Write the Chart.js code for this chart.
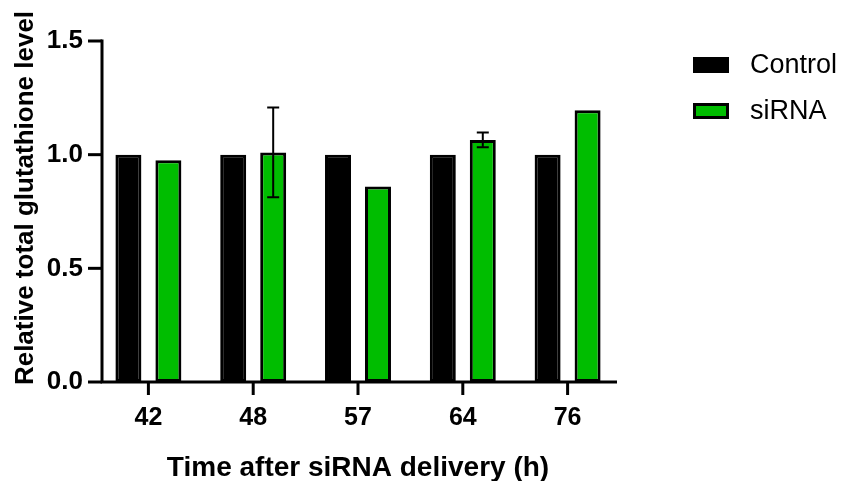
<!DOCTYPE html>
<html>
<head>
<meta charset="utf-8">
<title>Relative total glutathione level</title>
<script src="https://cdn.jsdelivr.net/npm/chart.js@4"></script>
<style>
  body { margin: 0; background: #fff; }
  #wrap { width: 841px; height: 481px; position: relative; }
</style>
</head>
<body>
<div id="wrap"><canvas id="barChart"></canvas></div>
<script>
const categories = ['42', '48', '57', '64', '76'];
const controlValues = [1.0, 1.0, 1.0, 1.0, 1.0];
const sirnaValues = [0.975, 1.01, 0.86, 1.065, 1.195];
const sirnaErrors = [0, 0.197, 0, 0.032, 0];
const yTicks = [0, 0.5, 1.0, 1.5];

const FONT = '"Liberation Sans", Arial, sans-serif';
const GREEN = '#00bd00';

// axis lines + tick marks drawn like the original (Prism style)
const axesPlugin = {
    id: 'axes',
    afterDatasetsDraw(chart) {
        const ctx = chart.ctx;
        const x = chart.scales.x;
        const y = chart.scales.y;
        const axisX = 102;
        const y0 = y.getPixelForValue(0);

        ctx.save();
        ctx.strokeStyle = '#000';
        ctx.lineWidth = 3;
        ctx.lineCap = 'butt';

        ctx.beginPath();
        ctx.moveTo(axisX, y.getPixelForValue(1.5) - 1.5);
        ctx.lineTo(axisX, y0);
        ctx.lineTo(617, y0);
        ctx.stroke();

        yTicks.forEach(v => {
            const py = y.getPixelForValue(v);
            ctx.beginPath();
            ctx.moveTo(88, py);
            ctx.lineTo(axisX, py);
            ctx.stroke();
        });

        categories.forEach((c, i) => {
            const px = x.getPixelForValue(i);
            ctx.beginPath();
            ctx.moveTo(px, y0);
            ctx.lineTo(px, y0 + 13);
            ctx.stroke();
        });

        // error bars on siRNA
        const meta = chart.getDatasetMeta(1);
        ctx.lineWidth = 2;
        sirnaErrors.forEach((err, i) => {
            if (!err) return;
            const bx = meta.data[i].x;
            const top = y.getPixelForValue(sirnaValues[i] + err);
            const bot = y.getPixelForValue(sirnaValues[i] - err);
            ctx.beginPath();
            ctx.moveTo(bx, top);
            ctx.lineTo(bx, bot);
            ctx.moveTo(bx - 6, top);
            ctx.lineTo(bx + 6, top);
            ctx.moveTo(bx - 6, bot);
            ctx.lineTo(bx + 6, bot);
            ctx.stroke();
        });

        ctx.restore();
    },
    afterDraw(chart) {
        const ctx = chart.ctx;
        ctx.save();

        // y axis title
        ctx.translate(26, 198);
        ctx.rotate(-Math.PI / 2);
        ctx.fillStyle = '#000';
        ctx.font = 'bold 26px ' + FONT;
        ctx.textAlign = 'center';
        ctx.textBaseline = 'middle';
        ctx.fillText('Relative total glutathione level', 0, 0);
        ctx.setTransform(1, 0, 0, 1, 0, 0);

        // legend
        ctx.font = '27px ' + FONT;
        ctx.textAlign = 'left';
        chart.data.datasets.forEach((ds, i) => {
            const top = 57 + i * 46;
            ctx.fillStyle = ds.backgroundColor;
            ctx.fillRect(693, top, 36, 16);
            ctx.strokeStyle = '#000';
            ctx.lineWidth = 3;
            ctx.strokeRect(694.5, top + 1.5, 33, 13);
            ctx.fillStyle = '#000';
            ctx.fillText(ds.label, 750, top + 9);
        });

        ctx.restore();
    }
};

const barCtx = document.getElementById('barChart').getContext('2d');

const barChart = new Chart(barCtx, {
    type: 'bar',
    data: {
        labels: categories,
        datasets: [{
            label: 'Control',
            data: controlValues,
            backgroundColor: '#000000',
            borderColor: '#000000',
            borderWidth: 3
        }, {
            label: 'siRNA',
            data: sirnaValues,
            backgroundColor: GREEN,
            borderColor: '#000000',
            borderWidth: 3
        }]
    },
    options: {
        responsive: true,
        maintainAspectRatio: false,
        animation: false,
        datasets: {
            bar: { barPercentage: 0.65, categoryPercentage: 0.763, borderSkipped: false }
        },
        layout: { padding: { left: 0, right: 221, top: 41, bottom: 0 } },
        plugins: {
            legend: { display: false },
            tooltip: { enabled: false }
        },
        scales: {
            x: {
                offset: true,
                grid: { display: false, drawTicks: false },
                border: { display: false },
                ticks: {
                    color: '#000',
                    padding: 21,
                    font: { family: FONT, size: 25, weight: 'bold' }
                },
                title: {
                    display: true,
                    text: 'Time after siRNA delivery (h)',
                    color: '#000',
                    font: { family: FONT, size: 28, weight: 'bold' },
                    padding: { top: 26, bottom: -4 }
                },
                afterFit(scale) { scale.height = 99; }
            },
            y: {
                min: 0,
                max: 1.5,
                grid: { display: false, drawTicks: false },
                border: { display: false },
                ticks: {
                    stepSize: 0.5,
                    color: '#000',
                    padding: 13,
                    font: { family: FONT, size: 26, weight: 'bold' },
                    callback: v => v.toFixed(1)
                },
                afterFit(scale) { scale.width = 96; }
            }
        }
    },
    plugins: [axesPlugin]
});
</script>
</body>
</html>
